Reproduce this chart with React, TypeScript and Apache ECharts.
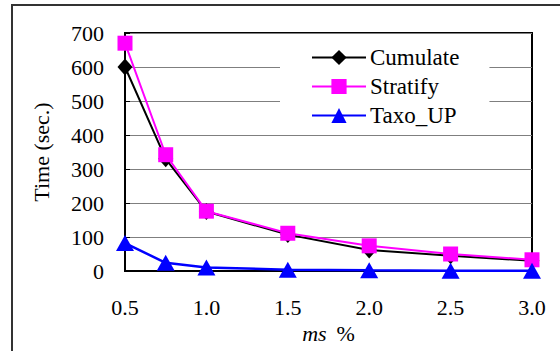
import React, { useEffect, useRef } from "react";
import * as echarts from "echarts";

const xValues = [0.5, 0.75, 1.0, 1.5, 2.0, 2.5, 3.0];
const cumulate = [600, 330, 175, 107, 62, 45, 30];
const stratify = [670, 342, 176, 111, 74, 50, 33];
const taxoUp = [82, 24, 10, 4, 2, 1, 1];
const seriesNames = ["Cumulate", "Stratify", "Taxo_UP"];

const FONT = "'Liberation Serif', 'Times New Roman', serif";

const pairs = (ys: number[]) => xValues.map((x, i) => [x, ys[i]]);

export default function App() {
  const ref = useRef<HTMLDivElement>(null);
  useEffect(() => {
    if (!ref.current) return;
    const chart = echarts.init(ref.current, undefined, { renderer: "svg" });
    chart.setOption({
      animation: false,
      backgroundColor: "#ffffff",
      textStyle: { fontFamily: FONT },
      grid: {
        left: 125,
        right: 28,
        top: 33,
        bottom: 80,
        show: true,
        borderColor: "#000",
        borderWidth: 2,
        backgroundColor: "transparent",
      },
      xAxis: {
        type: "value",
        min: 0.5,
        max: 3.0,
        interval: 0.5,
        name: "{i|ms}{n|%}",
        nameLocation: "middle",
        nameGap: 48,
        nameTextStyle: {
          rich: {
            i: { fontFamily: FONT, fontSize: 22, fontStyle: "italic", color: "#000", padding: [0, 10, 0, 0] },
            n: { fontFamily: FONT, fontSize: 22, color: "#000" },
          },
        },
        axisLine: { show: true, lineStyle: { color: "#000", width: 2 } },
        axisTick: { show: false },
        splitLine: { show: false },
        axisLabel: {
          fontFamily: FONT,
          fontSize: 22,
          color: "#000",
          margin: 25,
          formatter: (v: number) => v.toFixed(1),
        },
      },
      yAxis: {
        type: "value",
        min: 0,
        max: 700,
        interval: 100,
        name: "Time (sec.)",
        nameLocation: "middle",
        nameGap: 73,
        nameTextStyle: { fontFamily: FONT, fontSize: 22, color: "#000" },
        axisLine: { show: true, lineStyle: { color: "#000", width: 2 } },
        axisTick: { show: true, inside: true, length: 5, lineStyle: { color: "#000", width: 1 } },
        splitLine: { show: true, lineStyle: { color: "#7f7f7f", width: 1 } },
        axisLabel: { fontFamily: FONT, fontSize: 22, color: "#000", margin: 21 },
      },
      legend: {
        orient: "vertical",
        left: 280,
        top: 34,
        padding: [12, 30, 2, 31],
        backgroundColor: "#ffffff",
        itemWidth: 54,
        itemHeight: 19,
        itemGap: 6,
        textStyle: { fontFamily: FONT, fontSize: 23, color: "#000", padding: [0, 0, 0, -1] },
        data: seriesNames,
      },
      graphic: [
        {
          type: "rect",
          shape: { x: 12, y: 5, width: 620, height: 420 },
          style: { fill: "none", stroke: "#333", lineWidth: 2 },
          silent: true,
          z: 100,
        },
      ],
      series: [
        {
          name: seriesNames[0],
          type: "line",
          data: pairs(cumulate),
          symbol: "diamond",
          symbolSize: [15, 17],
          color: "#000000",
          lineStyle: { color: "#000000", width: 2 },
          itemStyle: { color: "#000000" },
        },
        {
          name: seriesNames[1],
          type: "line",
          data: pairs(stratify),
          symbol: "rect",
          symbolSize: 15,
          color: "#ff00ff",
          lineStyle: { color: "#ff00ff", width: 2 },
          itemStyle: { color: "#ff00ff" },
        },
        {
          name: seriesNames[2],
          type: "line",
          data: pairs(taxoUp),
          symbol: "triangle",
          symbolSize: [18, 16],
          color: "#0000ff",
          lineStyle: { color: "#0000ff", width: 2.5 },
          itemStyle: { color: "#0000ff" },
        },
      ],
    });
    return () => chart.dispose();
  }, []);
  return (
    <div
      ref={ref}
      style={{ position: "fixed", left: 0, top: 0, width: 560, height: 351 }}
    />
  );
}
